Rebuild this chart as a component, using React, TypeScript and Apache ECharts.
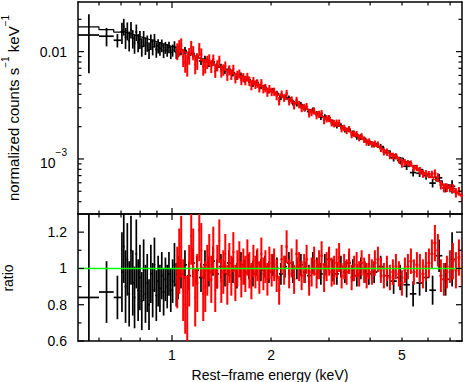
import { useEffect, useRef } from 'react';
import * as echarts from 'echarts';

// ---------- axis ranges ----------
const X_MIN = 0.518;
const X_MAX = 7.61;
const TOP_MIN = 3.07e-4;
const TOP_MAX = 0.029;
const RATIO_MIN = 0.6;
const RATIO_MAX = 1.3;

// ---------- black data set (bin edges in eV, model in 1e-6 counts/s/keV, ratio and error in %) ----------
const blackEdgesEv = [
  518, 600, 665,
  700, 709, 718, 727, 736, 746, 755, 765, 774, 784, 794, 804, 815, 825, 836, 846, 857, 868, 879, 890,
  902, 913, 925, 937, 949, 961, 973, 985, 998, 1011, 1024, 1037,
  1050, 1080, 1110, 1142, 1174, 1208, 1242, 1277, 1313, 1351, 1389, 1428, 1469, 1511, 1553, 1597, 1643,
  1689, 1737, 1787, 1837, 1890, 1943, 1998, 2055, 2113, 2173, 2235, 2298, 2363, 2430, 2499, 2570, 2643,
  2718, 2795, 2874, 2956, 3040, 3126, 3215, 3306, 3400, 3496, 3595, 3697, 3802, 3910,
  4021, 4208, 4404, 4609, 4823, 5048, 5283, 5528, 5785, 6054, 6336, 6631, 6939,
  7262,
];
const blackModel = [
  17000, 16000, 15200,
  15500, 15320, 15130, 14950, 14770, 14600, 14420, 14250, 14080, 13910, 13750, 13580, 13420, 13260, 13100, 12950,
  12790, 12640, 12490, 12340, 12190, 12050, 11900, 11760, 11620, 11480, 11350, 11210, 11080, 10950, 10820, 10690,
  10420, 10030, 9660, 9300, 8960, 8630, 8310, 8000, 7700, 7420, 7140, 6880, 6620, 6360, 6110, 5860, 5630, 5410,
  5190, 4990, 4790, 4600, 4420, 4240, 4070, 3900, 3730, 3580, 3420, 3280, 3140, 3010, 2880, 2760, 2640, 2530,
  2420, 2310, 2210, 2110, 2010, 1920, 1840, 1750, 1680, 1600, 1530, 1460,
  1390, 1290, 1190, 1100, 1020, 939, 868, 799, 736, 677, 624, 574, 529,
];
const blackRatio = [
  84, 87, 84,
  98, 112, 90, 105, 86, 110, 92, 84, 108, 88, 95, 82, 99, 86, 92, 80, 97, 88, 102, 85, 93, 89, 96, 87, 94, 90,
  97, 88, 93, 102, 91, 95,
  97, 102, 96, 103, 99, 95, 102, 98, 104, 97, 101, 97, 103, 99, 96, 102, 98, 101, 97, 103, 99, 101, 98, 102,
  100, 97, 101, 103, 98, 100, 102, 98, 96, 103, 100, 97, 102, 105, 99, 97, 101, 98, 103, 99, 96, 100, 98, 97,
  98, 101, 96, 93, 95, 91, 86, 92, 95, 88, 107, 94, 105,
];
const blackErr = [
  47, 17, 12,
  22, 20, 20, 20, 18, 19, 18, 17, 19, 17, 18, 16, 17, 16, 16, 14, 16, 15, 15, 14, 14, 13, 13, 13, 12, 12,
  12, 12, 12, 12, 12, 12,
  8, 8, 8, 8, 8, 8, 8, 8, 8, 8, 7, 7, 7, 7, 7, 7, 7, 7, 7, 7, 6, 6, 6, 6, 6, 6, 6, 6, 6, 6,
  6, 6, 6, 6, 6, 6, 6, 6, 6, 6, 6, 6, 6, 6, 6, 6, 6, 6,
  6, 6, 6, 7, 7, 7, 7, 7, 8, 8, 9, 9, 15,
];

// ---------- red data set ----------
const redEdgesEv = [
  1030, 1045, 1059, 1074, 1089, 1105, 1120, 1136, 1152, 1168, 1185, 1202, 1219, 1236, 1253, 1271, 1289, 1307,
  1326, 1344, 1363, 1383, 1402, 1422, 1442, 1462, 1483, 1504, 1525, 1547, 1569, 1591, 1613, 1636, 1659, 1683,
  1706, 1731, 1755, 1780, 1805, 1830, 1856, 1882, 1909, 1936, 1963, 1991,
  2026, 2062, 2098, 2135, 2173, 2211, 2250, 2290, 2330, 2371, 2413, 2456, 2499, 2543, 2588, 2634, 2680, 2727,
  2775, 2824, 2874, 2925, 2977, 3029, 3083, 3137, 3192, 3249, 3306, 3365, 3424, 3485, 3546, 3609, 3673, 3737,
  3803, 3870, 3939, 4008,
  4093, 4180, 4269, 4359, 4452, 4546, 4643, 4741, 4842, 4945, 5050, 5157, 5266, 5378, 5492, 5609, 5728, 5849,
  5973, 6100, 6229, 6361, 6496, 6634, 6775, 6919, 7066, 7216, 7369, 7525,
  7685,
];
const redModel = [
  10680, 10490, 10300, 10110, 9930, 9750, 9570, 9400, 9220, 9050, 8890, 8720, 8560, 8400, 8240, 8090, 7930, 7780,
  7640, 7490, 7350, 7210, 7070, 6930, 6800, 6670, 6540, 6410, 6290, 6160, 6040, 5920, 5800, 5690, 5580, 5470,
  5360, 5250, 5140, 5040, 4940, 4840, 4740, 4640, 4550, 4460, 4370, 4270,
  4160, 4050, 3940, 3840, 3740, 3640, 3540, 3450, 3360, 3270, 3190, 3100, 3020, 2940, 2860, 2780, 2700, 2630,
  2560, 2490, 2420, 2350, 2290, 2230, 2160, 2100, 2040, 1990, 1930, 1870, 1820, 1770, 1720, 1670, 1620, 1580,
  1530, 1490, 1440, 1400,
  1350, 1300, 1260, 1210, 1170, 1130, 1090, 1050, 1010, 975, 940, 905, 872, 840, 809, 779, 750, 722,
  696, 670, 645, 620, 597, 574, 552, 531, 511, 491, 473, 455,
];
const redRatio = [
  95, 104, 112, 88, 80, 78, 96, 118,
  106, 84, 92, 121, 110, 86, 90, 99,
  106, 94, 110, 88, 101, 115, 93, 98, 108, 91,
  103, 96, 109, 92, 100, 105, 94, 101, 97, 106,
  99, 93, 104, 98, 102, 95, 108, 97, 101, 94, 103, 99,
  102, 96, 88, 105, 99, 112, 97, 103, 94, 108, 101, 96,
  100, 105, 93, 98, 104, 97, 102, 107, 95, 101, 104, 98,
  99, 103, 106, 96, 101, 98, 104, 95, 100, 102, 97, 103, 99, 96, 101, 98,
  103, 105, 99, 96, 100, 95, 98, 101, 97, 92,
  99, 101, 104, 98, 102, 100, 97, 101, 103, 108,
  114, 110, 96, 94, 98, 101, 104, 99, 106, 100,
];
const redErr = [
  17, 18, 17, 17, 16, 18, 17, 16,
  16, 16, 16, 17, 15, 15, 14, 14,
  13, 13, 13, 12, 12, 12, 12, 12, 11, 11,
  11, 11, 11, 10, 10, 10, 10, 10, 10, 10,
  10, 10, 9, 9, 9, 9, 9, 9, 9, 9, 9, 9,
  9, 9, 8, 8, 8, 9, 8, 8, 8, 8, 8, 8,
  8, 8, 8, 8, 8, 8, 8, 8, 8, 8, 8, 8,
  8, 8, 8, 7, 7, 7, 7, 7, 7, 7, 7, 7, 7, 7, 7, 7,
  7, 7, 7, 7, 7, 7, 7, 7, 7, 7,
  7, 7, 7, 7, 7, 8, 8, 8, 8, 8,
  10, 9, 9, 9, 9, 9, 10, 10, 10, 10,
];

// ---------- ticks and labels ----------
const xTickValues = [0.6, 0.7, 0.8, 0.9, 1, 2, 3, 4, 5, 6, 7];
const xTickMajor = [0, 0, 0, 0, 1, 0, 0, 0, 0, 0, 0];
const xTickLabels = ['', '', '', '', '1', '2', '', '', '5', '', ''];
const topTickValues = [
  0.02, 0.01, 0.009, 0.008, 0.007, 0.006, 0.005, 0.004, 0.003, 0.002,
  0.001, 0.0009, 0.0008, 0.0007, 0.0006, 0.0005, 0.0004,
];
const topTickMajor = [0, 1, 0, 0, 0, 0, 0, 0, 0, 0, 1, 0, 0, 0, 0, 0, 0];
const topTickLabels = ['', '0.01', '', '', '', '', '', '', '', '', '{b|10}{s|−3}', '', '', '', '', '', ''];
const ratioTickValues = [0.6, 0.7, 0.8, 0.9, 1.0, 1.1, 1.2];
const ratioTickMajor = [1, 0, 1, 0, 1, 0, 1];
const ratioTickLabels = ['0.6', '', '0.8', '', '1', '', '1.2'];

const FONT = '"Liberation Sans", Arial, Helvetica, sans-serif';
const MAJOR_LEN = 6;
const MINOR_LEN = 3.5;
const RED_LW = 2;
const BLACK_LW = 1.7;

type Bin = { lo: number; hi: number; m: number; r: number; e: number };
function makeBins(edgesEv: number[], model: number[], ratio: number[], err: number[]): Bin[] {
  return model.map((m, i) => ({
    lo: edgesEv[i] / 1000,
    hi: edgesEv[i + 1] / 1000,
    m: m * 1e-6,
    r: ratio[i] / 100,
    e: err[i] / 100,
  }));
}
const blackBins = makeBins(blackEdgesEv, blackModel, blackRatio, blackErr);
const redBins = makeBins(redEdgesEv, redModel, redRatio, redErr);

function seg(x1: number, y1: number, x2: number, y2: number, color: string, w = 1) {
  return { type: 'line', shape: { x1, y1, x2, y2 }, style: { stroke: color, lineWidth: w } };
}

function crossItem(color: string, floor: number, lw: number) {
  return (_params: any, api: any) => {
    const lo = api.value(0);
    const v = api.value(1);
    const hi = api.value(2);
    const e = api.value(3);
    const a = api.coord([lo, v]);
    const b = api.coord([hi, v]);
    const mid = (lo + hi) / 2;
    const t = api.coord([mid, v + e]);
    const d = api.coord([mid, Math.max(v - e, floor)]);
    return {
      type: 'group',
      children: [seg(a[0], a[1], b[0], b[1], color, lw), seg(t[0], t[1], d[0], d[1], color, lw)],
    };
  };
}

function crossSeries(bins: Bin[], color: string, top: boolean, z: number, lw: number) {
  return {
    type: 'custom',
    xAxisIndex: top ? 0 : 2,
    yAxisIndex: top ? 0 : 2,
    clip: true,
    silent: true,
    z,
    encode: { x: [0, 2], y: 1 },
    data: bins.map((b) => (top ? [b.lo, b.m * b.r, b.hi, b.m * b.e] : [b.lo, b.r, b.hi, b.e])),
    renderItem: crossItem(color, top ? TOP_MIN * 0.1 : -10, lw),
  };
}

function modelSeries(bins: Bin[], color: string, z: number) {
  const last = bins[bins.length - 1];
  return {
    type: 'line',
    xAxisIndex: 0,
    yAxisIndex: 0,
    step: 'end',
    symbol: 'none',
    showSymbol: false,
    silent: true,
    clip: true,
    z,
    lineStyle: { color, width: 1.2 },
    data: [...bins.map((b) => [b.lo, b.m]), [last.hi, last.m]],
  };
}

function textStyle(text: string, align: string, vAlign: string, size = 14) {
  return {
    text,
    fill: '#000',
    fontSize: size,
    fontFamily: FONT,
    align,
    textAlign: align,
    verticalAlign: vAlign,
    textVerticalAlign: vAlign,
    rich: {
      b: { fontSize: 14, fontFamily: FONT, lineHeight: 22, verticalAlign: 'bottom', fill: '#000' },
      s: { fontSize: 10, fontFamily: FONT, verticalAlign: 'top', fill: '#000' },
    },
  };
}

function xTickSeries(axisIdx: number, yRef: number, withLabels: boolean) {
  return {
    type: 'custom',
    xAxisIndex: axisIdx,
    yAxisIndex: axisIdx,
    silent: true,
    clip: false,
    z: 10,
    encode: { x: 0, y: 1 },
    data: xTickValues.map((v) => [v, yRef]),
    renderItem: (params: any, api: any) => {
      const i = params.dataIndex;
      const cs = params.coordSys;
      const x = api.coord([xTickValues[i], yRef])[0];
      const len = xTickMajor[i] ? MAJOR_LEN : MINOR_LEN;
      const children: any[] = [
        seg(x, cs.y, x, cs.y + len, '#000', 1.2),
        seg(x, cs.y + cs.height, x, cs.y + cs.height - len, '#000', 1.2),
      ];
      if (withLabels && xTickLabels[i]) {
        children.push({ type: 'text', x, y: cs.y + cs.height + 14, style: textStyle(xTickLabels[i], 'center', 'middle') });
      }
      return { type: 'group', children };
    },
  };
}

function yTickSeries(axisIdx: number, values: number[], major: number[], labels: string[]) {
  return {
    type: 'custom',
    xAxisIndex: axisIdx,
    yAxisIndex: axisIdx,
    silent: true,
    clip: false,
    z: 10,
    encode: { x: 0, y: 1 },
    data: values.map((v) => [1, v]),
    renderItem: (params: any, api: any) => {
      const i = params.dataIndex;
      const cs = params.coordSys;
      const y = api.coord([1, values[i]])[1];
      const len = major[i] ? MAJOR_LEN : MINOR_LEN;
      const children: any[] = [
        seg(cs.x, y, cs.x + len, y, '#000', 1.2),
        seg(cs.x + cs.width, y, cs.x + cs.width - len, y, '#000', 1.2),
      ];
      if (labels[i]) {
        children.push({ type: 'text', x: cs.x - 11, y, style: textStyle(labels[i], 'right', 'middle') });
      }
      return { type: 'group', children };
    },
  };
}

const axisLine = { show: true, onZero: false, lineStyle: { color: '#000', width: 1.5 } };
function xAxisDef(grid: number, position: string) {
  return {
    gridIndex: grid, type: 'log', logBase: 10, min: X_MIN, max: X_MAX, position,
    axisLine, axisTick: { show: false }, axisLabel: { show: false }, splitLine: { show: false },
  };
}
function yAxisDef(grid: number, position: string) {
  const top = grid === 0;
  return {
    gridIndex: grid, type: top ? 'log' : 'value', logBase: 10,
    min: top ? TOP_MIN : RATIO_MIN, max: top ? TOP_MAX : RATIO_MAX, position,
    axisLine, axisTick: { show: false }, axisLabel: { show: false }, splitLine: { show: false },
  };
}

export default function App() {
  const ref = useRef<HTMLDivElement>(null);
  useEffect(() => {
    if (!ref.current) return;
    const chart = echarts.init(ref.current, null, { renderer: 'svg' });
    chart.setOption({
      animation: false,
      backgroundColor: '#fff',
      grid: [
        { left: 78, right: 1, top: 2, height: 212 },
        { left: 78, right: 1, top: 214, height: 127 },
      ],
      xAxis: [xAxisDef(0, 'bottom'), xAxisDef(0, 'top'), xAxisDef(1, 'bottom'), xAxisDef(1, 'top')],
      yAxis: [yAxisDef(0, 'left'), yAxisDef(0, 'right'), yAxisDef(1, 'left'), yAxisDef(1, 'right')],
      graphic: [
        {
          type: 'text', x: 10.5, y: 108, rotation: Math.PI / 2,
          style: {
            text: '{n|normalized counts s}{s|−1}{n| keV}{s|−1}',
            align: 'center', textAlign: 'center', verticalAlign: 'middle', textVerticalAlign: 'middle',
            fill: '#000',
            rich: {
              n: { fontSize: 15, fontFamily: FONT, lineHeight: 20, verticalAlign: 'bottom', fill: '#000' },
              s: { fontSize: 10, fontFamily: FONT, verticalAlign: 'top', fill: '#000' },
            },
          },
        },
        {
          type: 'text', x: 8, y: 278, rotation: Math.PI / 2,
          style: {
            text: 'ratio', fill: '#000', fontSize: 14, fontFamily: FONT,
            align: 'center', textAlign: 'center', verticalAlign: 'middle', textVerticalAlign: 'middle',
          },
        },
        {
          type: 'text', x: 270, y: 375,
          style: {
            text: 'Rest−frame energy (keV)', fill: '#000', fontSize: 14, fontFamily: FONT,
            align: 'center', textAlign: 'center', verticalAlign: 'middle', textVerticalAlign: 'middle',
          },
        },
      ],
      series: [
        crossSeries(blackBins, '#000000', true, 2, BLACK_LW),
        modelSeries(blackBins, '#000000', 3),
        crossSeries(redBins, '#ff0000', true, 4, RED_LW),
        modelSeries(redBins, '#ff0000', 5),
        crossSeries(blackBins, '#000000', false, 2, BLACK_LW),
        crossSeries(redBins, '#ff0000', false, 4, RED_LW),
        {
          type: 'line', xAxisIndex: 2, yAxisIndex: 2, symbol: 'none', showSymbol: false, silent: true, z: 6,
          lineStyle: { color: '#00ff00', width: 1.6 },
          data: [[X_MIN, 1], [X_MAX, 1]],
        },
        xTickSeries(0, 0.001, false),
        xTickSeries(2, 1, true),
        yTickSeries(0, topTickValues, topTickMajor, topTickLabels),
        yTickSeries(2, ratioTickValues, ratioTickMajor, ratioTickLabels),
      ],
    });
    return () => chart.dispose();
  }, []);
  return <div ref={ref} style={{ position: 'absolute', left: 0, top: 0, width: 463, height: 382 }} />;
}
